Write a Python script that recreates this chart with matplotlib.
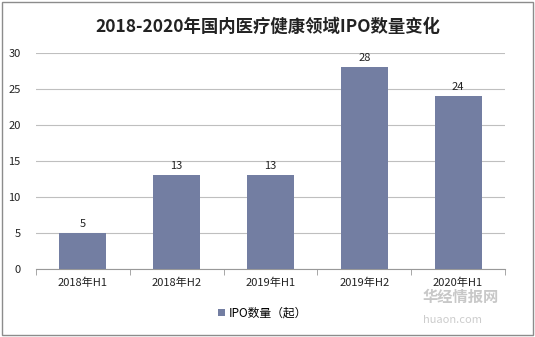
import matplotlib.pyplot as plt
from matplotlib.patches import Rectangle

plt.rcParams['font.family'] = ['Noto Sans CJK SC', 'DejaVu Sans']

categories = ['2018年H1', '2018年H2', '2019年H1', '2019年H2', '2020年H1']
ipo_counts = [5, 13, 13, 28, 24]
series_name = 'IPO数量（起）'
title = '2018-2020年国内医疗健康领域IPO数量变化'

bar_color = '#737ea2'

fig = plt.figure(figsize=(5.35, 3.37), dpi=100)
ax = fig.add_axes([36 / 535, 1 - 269 / 337, 469 / 535, 216 / 337])

x = range(len(categories))
bars = ax.bar(x, ipo_counts, width=0.5, color=bar_color, label=series_name, zorder=3)
for b, v in zip(bars, ipo_counts):
    ax.text(b.get_x() + b.get_width() / 2, v + 0.6, str(v), ha='center', va='bottom',
            fontsize=8, color='#222222')

ax.set_xlim(-0.5, len(categories) - 0.5)
ax.set_ylim(0, 30)
ax.set_yticks(range(0, 31, 5))
ax.set_xticks(list(x))
ax.set_xticklabels(categories, fontsize=8, color='#222222')
ax.tick_params(axis='y', length=0, labelsize=8, labelcolor='#222222', pad=11)
ax.set_xticks([i - 0.5 for i in range(len(categories) + 1)], minor=True)
ax.tick_params(axis='x', which='major', length=0, pad=6)
ax.tick_params(axis='x', which='minor', length=4, color='#999999')
ax.grid(axis='y', color='#bfbfbf', linewidth=0.8, zorder=0)
for s in ['top', 'right', 'left']:
    ax.spines[s].set_visible(False)
ax.spines['bottom'].set_color('#999999')

fig.text(0.5, 1 - 27 / 337, title, ha='center', va='center', fontsize=12.5,
         fontweight='bold', color='#222222')

fig.legend(handles=[bars], labels=[series_name], loc='center', bbox_to_anchor=(0.49, 1 - 313 / 337),
           frameon=False, fontsize=8.5, handlelength=0.6, handleheight=0.6, handletextpad=0.3)

# watermark
fig.text(0.79, 1 - 297 / 337, '华经情报网', fontsize=11, fontweight='bold', color='#c8c8c8', va='center')
fig.text(0.79, 1 - 320 / 337, 'huaon.com', fontsize=8, color='#cccccc', va='center')

fig.patches.append(Rectangle((0.004, 0.006), 0.992, 0.988, transform=fig.transFigure,
                             fill=False, edgecolor='#8c8c8c', linewidth=1))

fig.savefig('out.png', dpi=100)
